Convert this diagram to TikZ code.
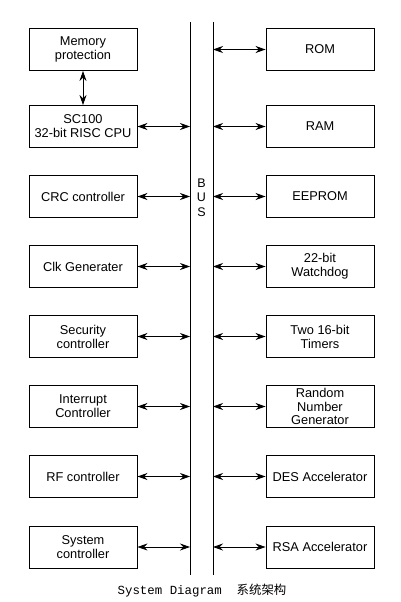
\documentclass[tikz,border=0pt]{standalone}
\usepackage{fontspec}
\setmainfont{Liberation Sans}
\newfontfamily\capmono{Liberation Mono}
\newfontfamily\cjk{Noto Sans CJK SC}
\usetikzlibrary{arrows.meta}
\begin{document}
\begin{tikzpicture}[x=1pt,y=-1pt,
  blk/.style={draw,line width=0.9pt,minimum width=108pt,minimum height=42pt,inner sep=0pt,align=center,font=\fontsize{12.8}{14}\selectfont},
  link/.style={line width=0.8pt,{Stealth[length=10pt,width=7pt]}-{Stealth[length=10pt,width=7pt]}},
  busline/.style={line width=0.9pt}]
\useasboundingbox (0,0) rectangle (400,602);
% left column
\node[blk] (mem) at (83,49.5) {Memory\\protection};
\node[blk] (cpu) at (83,126.5) {SC100\\32-bit RISC CPU};
\node[blk] (crc) at (83,196.5) {CRC controller};
\node[blk] (clk) at (83,266.5) {Clk Generater};
\node[blk] (sec) at (83,336.5) {Security\\controller};
\node[blk] (irq) at (83,406.5) {Interrupt\\Controller};
\node[blk] (rf)  at (83,476.5) {RF controller};
\node[blk] (sys) at (83,547) {System\\controller};
% right column
\node[blk] (rom) at (320,49.5) {ROM};
\node[blk] (ram) at (320,126.5) {RAM};
\node[blk] (eep) at (320,196.5) {EEPROM};
\node[blk] (wdg) at (320,266.5) {22-bit\\Watchdog};
\node[blk] (tmr) at (320,336.5) {Two 16-bit\\Timers};
\node[blk,font=\fontsize{12.8}{13.3}\selectfont] (rng) at (320,406.5) {Random\\Number\\Generator};
\node[blk] (des) at (320,476.5) {DES Accelerator};
\node[blk] (rsa) at (320,547) {RSA Accelerator};
% bus
\coordinate (blt) at (190,22);
\coordinate (blb) at (190,575);
\coordinate (brt) at (213,22);
\coordinate (brb) at (213,575);
\draw[busline] (blt) -- (blb);
\draw[busline] (brt) -- (brb);
\node[font=\fontsize{12.5}{14.5}\selectfont,align=center,inner sep=0pt] (bus) at (201.5,197.5) {B\\U\\S};
% connectors
\draw[link] (mem.south) -- (cpu.north);
\foreach \n in {cpu,crc,clk,sec,irq,rf,sys}{
  \draw[link] (\n.east) -- (\n.east -| blt);
}
\foreach \n in {rom,ram,eep,wdg,tmr,rng,des,rsa}{
  \draw[link] (\n.west -| brt) -- (\n.west);
}
% caption
\node[inner sep=0pt] (cap) at (202,591) {\capmono\fontsize{12.4}{13}\selectfont System Diagram\ \ {\cjk 系统架构}};
\end{tikzpicture}
\end{document}
